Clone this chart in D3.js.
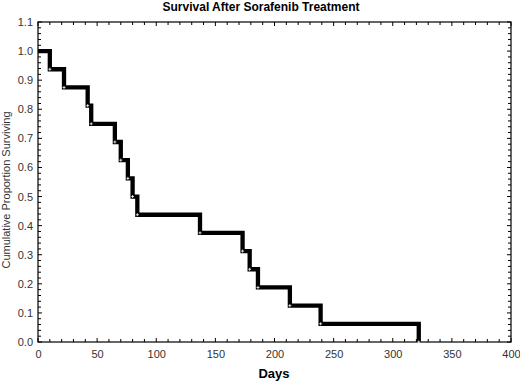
<!DOCTYPE html>
<html><head><meta charset="utf-8">
<script src="https://cdn.jsdelivr.net/npm/d3@7"></script>
<style>body{margin:0;background:#fff}svg{display:block}text{font-family:"Liberation Sans",Arial,sans-serif}</style>
</head><body><svg id="c" width="520" height="383"></svg>
<script>
const dropDays = [10, 22, 42, 45, 65, 70, 76, 80, 84, 137, 173, 179, 186, 213, 239, 322];
const survival = [0.9375, 0.875, 0.8125, 0.75, 0.6875, 0.625, 0.5625, 0.5, 0.4375, 0.375, 0.3125, 0.25, 0.1875, 0.125, 0.0625, 0.0];
const xTicks = [0, 50, 100, 150, 200, 250, 300, 350, 400];
const yTicks = [0, 0.1, 0.2, 0.3, 0.4, 0.5, 0.6, 0.7, 0.8, 0.9, 1.0, 1.1];

const svg = d3.select("#c");
const L = 38, R = 511, T = 22, B = 342;
const x = d3.scaleLinear().domain([0, 400]).range([L, R]);
const y = d3.scaleLinear().domain([0, 1.1]).range([B, T]);

// minor ticks
const g = svg.append("g");
d3.range(0, 401, 10).forEach(d => {
  const len = d % 50 === 0 ? 4 : 3;
  g.append("line").attr("x1", x(d)).attr("x2", x(d)).attr("y1", B).attr("y2", B - len).attr("stroke", "#000");
  g.append("line").attr("x1", x(d)).attr("x2", x(d)).attr("y1", T).attr("y2", T + len).attr("stroke", "#000");
});
d3.range(0, 56).forEach(i => {
  const d = i * 0.02; const len = i % 5 === 0 ? 4 : 3;
  g.append("line").attr("x1", L).attr("x2", L + len).attr("y1", y(d)).attr("y2", y(d)).attr("stroke", "#000");
  g.append("line").attr("x1", R).attr("x2", R - len).attr("y1", y(d)).attr("y2", y(d)).attr("stroke", "#000");
});

// frame
svg.append("rect").attr("x", L).attr("y", T).attr("width", R - L).attr("height", B - T)
  .attr("fill", "none").attr("stroke", "#000").attr("stroke-width", 1.2);

const xa = svg.append("g").attr("transform", `translate(0,${B})`)
  .call(d3.axisBottom(x).tickValues(xTicks).tickSize(0).tickPadding(8).tickFormat(d3.format("d")));
xa.select(".domain").remove();
xa.selectAll("text").attr("font-size", 11).attr("fill", "#333").attr("font-family", "Liberation Sans, Arial");
const ya = svg.append("g").attr("transform", `translate(${L},0)`)
  .call(d3.axisLeft(y).tickValues(yTicks).tickSize(0).tickPadding(5).tickFormat(d3.format(".1f")));
ya.select(".domain").remove();
ya.selectAll("text").attr("font-size", 11).attr("fill", "#333").attr("font-family", "Liberation Sans, Arial");

// step line
const pts = [[0, 1.0]];
let prev = 1.0;
dropDays.forEach((d, i) => { pts.push([d, prev]); pts.push([d, survival[i]]); prev = survival[i]; });
svg.append("path").datum(pts)
  .attr("d", d3.line().x(d => x(d[0])).y(d => y(d[1])))
  .attr("fill", "none").attr("stroke", "#000").attr("stroke-width", 4.3).attr("stroke-linejoin", "miter");

// small white crosses at step points
dropDays.forEach((d, i) => {
  const cx = x(d), cy = y(survival[i]);
  svg.append("line").attr("x1", cx - 1.5).attr("x2", cx + 1.5).attr("y1", cy).attr("y2", cy).attr("stroke", "#fff").attr("stroke-width", 0.8);
  svg.append("line").attr("x1", cx).attr("x2", cx).attr("y1", cy - 1.5).attr("y2", cy + 1.5).attr("stroke", "#fff").attr("stroke-width", 0.8);
});

// titles
svg.append("text").attr("x", 261).attr("y", 11).attr("text-anchor", "middle")
  .attr("font-size", 12).attr("font-weight", "bold").text("Survival After Sorafenib Treatment");
svg.append("text").attr("x", 274).attr("y", 378).attr("text-anchor", "middle")
  .attr("font-size", 13).attr("font-weight", "bold").text("Days");
svg.append("text").attr("transform", `translate(10,190) rotate(-90)`).attr("text-anchor", "middle")
  .attr("font-size", 11).attr("fill", "#333").text("Cumulative Proportion Surviving");
</script></body></html>
